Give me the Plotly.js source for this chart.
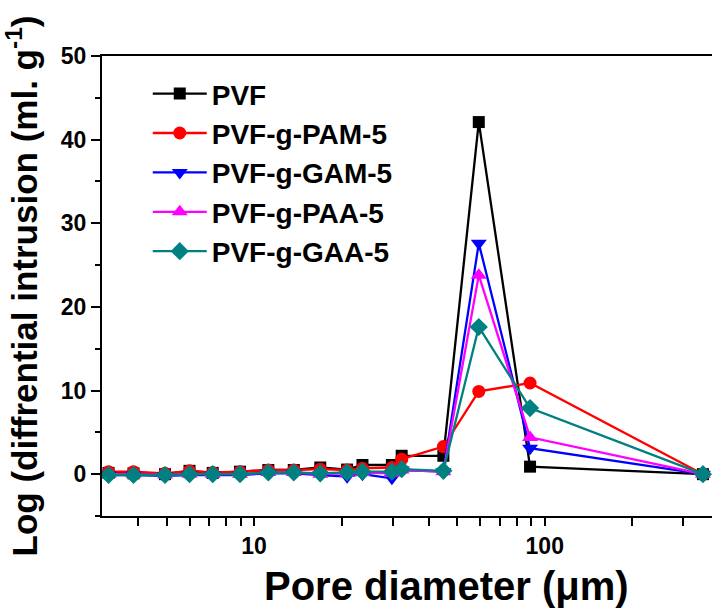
<!DOCTYPE html>
<html>
<head>
<meta charset="utf-8">
<script src="https://cdn.plot.ly/plotly-3.0.1.min.js"></script>
<style>html,body{margin:0;padding:0;background:#fff;overflow:hidden;}#chart{width:712px;height:613px;}</style>
</head>
<body>
<div id="chart"></div>
<script>
const poreDiameter = [3.16, 3.85, 4.94, 6.0, 7.21, 8.95, 11.2, 13.7, 16.9, 20.9, 23.6, 29.8, 32.2, 44.8, 59.3, 89, 350];
const seriesNames = ["PVF", "PVF-g-PAM-5", "PVF-g-GAM-5", "PVF-g-PAA-5", "PVF-g-GAA-5"];
const pvf    = [0.15, 0.1, 0.0, 0.4, 0.15, 0.3, 0.5, 0.5, 0.8, 0.55, 1.1, 1.1, 2.2, 2.2, 42.1, 0.9, 0.0];
const pvfPAM = [0.3, 0.3, 0.1, 0.4, 0.2, 0.3, 0.5, 0.5, 0.6, 0.5, 0.7, 0.8, 1.8, 3.3, 9.9, 10.9, 0.0];
const pvfGAM = [-0.1, -0.1, -0.2, -0.1, -0.1, -0.1, 0.1, 0.1, -0.1, -0.3, 0.0, -0.5, 0.5, 0.3, 27.6, 3.1, 0.0];
const pvfPAA = [0.0, 0.0, -0.1, 0.0, 0.0, 0.0, 0.2, 0.2, 0.0, 0.1, 0.2, 0.1, 0.5, 0.3, 23.8, 4.4, 0.0];
const pvfGAA = [-0.1, -0.1, -0.1, 0.0, 0.0, 0.0, 0.2, 0.2, 0.1, 0.2, 0.3, 0.3, 0.6, 0.4, 17.6, 7.9, 0.0];
const xTickVals = [10, 100];
const xTickText = ["10", "100"];
const xMinorTicks = [4, 5, 6, 7, 8, 9, 20, 30, 40, 50, 60, 70, 80, 90, 200, 300];
const yTickVals = [0, 10, 20, 30, 40, 50];
const yMinorTicks = [-5, 5, 15, 25, 35, 45];
const xTitle = "<b>Pore diameter (μm)</b>";
const yTitle = "<b>Log (diffrential intrusion (ml. g<sup>-1</sup>)</b>";

const allY = [pvf, pvfPAM, pvfGAM, pvfPAA, pvfGAA];
const colors = ["#000000", "#ff0000", "#0000ff", "#ff00ff", "#008080"];
const symbols = ["square", "circle", "triangle-down", "triangle-up", "diamond"];
const sizes = [12, 13, 14, 14, 14];

const traces = allY.map((y, i) => ({
  x: poreDiameter, y: y, type: "scatter", mode: "lines+markers",
  name: "<b>" + seriesNames[i] + "</b>", legendgroup: "g" + i,
  line: {color: colors[i], width: 2.3},
  marker: {color: colors[i], symbol: symbols[i], size: sizes[i]},
  cliponaxis: false
}));

const font = "Liberation Sans, Arial, sans-serif";
const layout = {
  width: 712, height: 613,
  margin: {l: 102, r: 0, t: 56, b: 97},
  paper_bgcolor: "#fff", plot_bgcolor: "#fff",
  font: {family: font, color: "#000"},
  showlegend: true,
  legend: {x: 0.075, y: 0.972, xanchor: "left", yanchor: "top", bgcolor: "rgba(0,0,0,0)",
           font: {family: font, size: 28, color: "#000"}, tracegroupgap: 0, itemwidth: 54},
  xaxis: {
    type: "log", range: [Math.log10(3), Math.log10(376)],
    showline: true, linecolor: "#000", linewidth: 2, mirror: true,
    ticks: "outside", ticklen: 8, tickwidth: 2, tickcolor: "#000",
    tickvals: xTickVals, ticktext: xTickText,
    minor: {tickvals: xMinorTicks, ticks: "outside", ticklen: 8, tickwidth: 2, tickcolor: "#000"},
    tickfont: {family: font, size: 23, weight: "bold"},
    showgrid: false, zeroline: false
  },
  yaxis: {
    range: [-5, 50],
    showline: true, linecolor: "#000", linewidth: 2,
    ticks: "outside", ticklen: 9, tickwidth: 2, tickcolor: "#000",
    tickvals: yTickVals, tickfont: {family: font, size: 23, weight: "bold"},
    minor: {tickvals: yMinorTicks, ticks: "outside", ticklen: 5, tickwidth: 2, tickcolor: "#000"},
    showgrid: false, zeroline: false,
    title: {text: yTitle, font: {family: font, size: 35, color: "#000"}, standoff: 15}
  },
  annotations: [
    {text: xTitle, xref: "paper", yref: "paper", x: (446 - 102) / 610, y: -(586 - 516) / 460,
     xanchor: "center", yanchor: "middle", showarrow: false, font: {family: font, size: 40, color: "#000"}}
  ]
};

Plotly.newPlot("chart", traces, layout, {displayModeBar: false, staticPlot: true});
</script>
</body>
</html>
